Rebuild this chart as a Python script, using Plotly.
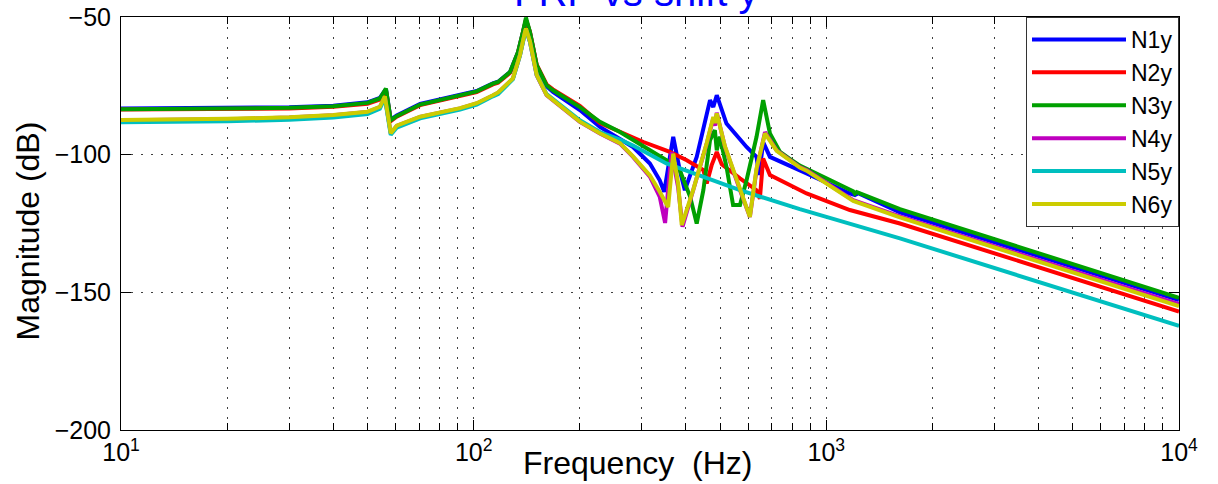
import plotly.graph_objects as go

# ---------------- data ----------------
series_names = ["N1y", "N2y", "N3y", "N4y", "N5y", "N6y"]
series_colors = ["#0000FF", "#FF0000", "#00A000", "#BF00BF", "#00BFBF", "#CCCC00"]

freq_N1 = [10, 20, 30, 40, 50, 54.2, 56.4, 58.2, 60.5, 70.5, 91.5, 102, 113.4, 117.3, 126.8,
           133.6, 137.9, 140.7, 144.4, 150.9, 161, 167.8, 200, 228, 283, 316, 337, 347, 368, 384,
           397, 429, 468, 478, 489, 521, 594, 634, 645, 662, 692, 841, 879, 1166, 1205, 1231, 1617, 10000]
mag_N1 = [-83.2, -83.0, -82.8, -82.2, -81.0, -79.4, -76.2, -87.3, -85.8, -81.6, -78.4, -76.9, -74.1, -73.5, -70.0,
          -62.8, -55.6, -51.0, -55.6, -67.7, -75.2, -77.2, -83.8, -89.9, -97.2, -103.2, -109.3, -113.5, -93.5, -105.6,
          -112.9, -100.8, -80.2, -82.7, -78.4, -88.7, -97.2, -100.8, -107.4, -95.4, -100.8, -105.6, -106.8, -114.1, -114.7, -114.0, -121.0, -152.8]

freq_N2 = [10, 20, 30, 40, 50, 54.2, 56.4, 58.2, 60.5, 70.5, 91.5, 102, 113.4, 117.3, 126.8,
           133.6, 137.9, 140.7, 144.4, 150.9, 161, 167.8, 200, 228, 303, 360, 402, 448, 458, 473,
           489, 505, 569, 634, 648, 662, 692, 841, 879, 1166, 1617, 10000]
mag_N2 = [-83.6, -83.4, -83.2, -82.6, -81.5, -80.0, -76.6, -87.8, -86.2, -82.0, -78.8, -77.3, -74.5, -73.9, -70.3,
          -63.0, -55.7, -51.0, -55.4, -67.3, -74.5, -76.3, -82.3, -88.5, -95.4, -99.0, -102.0, -105.6, -110.5, -103.8,
          -99.0, -103.5, -108.6, -112.9, -116.0, -101.4, -107.4, -112.9, -114.1, -120.1, -125.0, -157.0]

freq_N3 = [10, 20, 30, 40, 50, 54.2, 56.4, 58.2, 60.5, 70.5, 91.5, 102, 113.4, 117.3, 126.8,
           133.6, 137.9, 140.7, 144.4, 150.9, 161, 167.8, 200, 228, 260, 283, 352, 384, 411, 429,
           448, 468, 483, 489, 499, 521, 544, 569, 594, 634, 662, 692, 707, 739, 788,
           841, 980, 1192, 1205, 1219, 1617, 10000]
mag_N3 = [-83.5, -83.2, -83.0, -82.4, -81.2, -79.6, -76.0, -87.5, -86.0, -81.8, -78.6, -77.0, -74.2, -73.6, -70.0,
          -62.7, -55.4, -50.2, -55.4, -67.5, -74.8, -76.6, -82.7, -88.1, -91.8, -94.7, -102.0, -105.6, -115.3, -125.0,
          -112.9, -94.7, -91.1, -98.4, -93.5, -104.4, -118.3, -118.3, -109.3, -93.5, -80.2, -92.3, -94.7, -99.0, -101.5,
          -104.0, -108.0, -113.3, -114.2, -113.6, -119.8, -152.0]

freq_N4 = [10, 20, 30, 40, 50, 54.2, 56.0, 58.2, 60.5, 70.5, 91.5, 102, 113.4, 117.3, 129.2,
           135.3, 139.8, 140.7, 144.4, 150.9, 161, 167.8, 200, 228, 260, 283, 316, 337, 349, 364,
           380, 391, 420, 458, 478, 483, 489, 516, 569, 607, 634, 670, 723, 841, 879, 1192, 1617, 10000]
mag_N4 = [-87.5, -87.1, -86.5, -85.7, -84.5, -82.7, -79.0, -92.3, -89.6, -86.3, -83.2, -81.4, -78.5, -77.5, -72.4,
          -63.9, -55.6, -54.4, -59.0, -71.2, -78.4, -80.2, -88.1, -92.3, -96.0, -100.8, -108.0, -115.3, -124.8, -99.0,
          -111.9, -126.2, -112.9, -96.0, -86.8, -89.5, -84.8, -97.2, -112.9, -122.6, -105.6, -91.8, -98.4, -104.5, -105.6,
          -116.5, -122.4, -154.3]

freq_N5 = [10, 20, 30, 40, 50, 54.2, 56.0, 58.2, 60.5, 70.5, 91.5, 102, 113.4, 117.3, 129.2,
           135.3, 139.8, 140.7, 144.4, 150.9, 161, 167.8, 200, 228, 260, 283, 352, 569, 841, 1617, 10000]
mag_N5 = [-88.2, -87.9, -87.3, -86.5, -85.2, -83.3, -79.5, -92.8, -90.2, -86.8, -83.6, -81.8, -78.8, -78.0, -72.6,
          -64.0, -55.8, -54.6, -59.0, -71.0, -78.0, -79.8, -87.5, -91.8, -94.5, -96.7, -103.2, -112.9, -119.8, -130.4, -162.2]

freq_N6 = [10, 20, 30, 40, 50, 54.2, 56.0, 58.2, 60.5, 70.5, 91.5, 102, 113.4, 117.3, 129.2,
           135.3, 139.8, 140.7, 144.4, 150.9, 161, 167.8, 200, 228, 260, 283, 316, 337, 356, 368,
           380, 389, 420, 458, 478, 483, 489, 516, 569, 607, 634, 670, 723, 841, 879, 1192, 1617, 10000]
mag_N6 = [-87.4, -87.0, -86.4, -85.6, -84.4, -82.6, -78.8, -92.2, -89.5, -86.2, -83.1, -81.3, -78.4, -77.4, -72.3,
          -63.8, -55.4, -54.2, -58.8, -71.0, -78.3, -80.1, -88.0, -92.2, -95.8, -100.6, -107.5, -113.5, -119.0, -99.6,
          -110.5, -125.6, -112.5, -95.8, -86.3, -88.5, -85.0, -97.0, -112.5, -122.6, -105.0, -92.3, -98.6, -104.7, -105.8,
          -116.8, -122.8, -155.0]

x_major_ticks = [10, 100, 1000, 10000]
x_major_text = ["10<sup>1</sup>", "10<sup>2</sup>", "10<sup>3</sup>", "10<sup>4</sup>"]
x_minor_ticks = [20, 30, 40, 50, 60, 70, 80, 90,
                 200, 300, 400, 500, 600, 700, 800, 900,
                 2000, 3000, 4000, 5000, 6000, 7000, 8000, 9000]
y_ticks = [-200, -150, -100, -50]
y_tick_text = ["\u2212200", "\u2212150", "\u2212100", "\u221250"]

title_text = "FRF vs shift y"
x_label = "Frequency\u00a0\u00a0(Hz)"
y_label = "Magnitude (dB)"

# ---------------- figure ----------------
FONT = "Liberation Sans, Arial, Helvetica, sans-serif"
GRID = "#404040"
DASH = "2px,8px"

freqs = [freq_N1, freq_N2, freq_N3, freq_N4, freq_N5, freq_N6]
mags = [mag_N1, mag_N2, mag_N3, mag_N4, mag_N5, mag_N6]

fig = go.Figure()
for name, f, m, c in zip(series_names, freqs, mags, series_colors):
    fig.add_trace(go.Scatter(x=f, y=m, mode="lines", name=name,
                             line=dict(color=c, width=4)))

fig.update_layout(
    width=1218, height=484,
    margin=dict(l=121, r=39, t=17, b=54, autoexpand=False),
    paper_bgcolor="white", plot_bgcolor="white",
    font=dict(family=FONT, color="black", size=25),
    showlegend=True,
    legend=dict(x=1, y=1, xanchor="right", yanchor="top",
                bgcolor="white", bordercolor="#333333", borderwidth=1,
                font=dict(family=FONT, size=23, color="black"),
                itemwidth=94, tracegroupgap=0),
    xaxis=dict(type="log", range=[1, 4], automargin=False,
               tickmode="array", tickvals=x_major_ticks, ticktext=x_major_text,
               ticks="inside", ticklen=10, tickwidth=1, tickcolor="black",
               showline=True, linecolor="black", linewidth=1, mirror="ticks",
               showgrid=True, gridcolor=GRID, griddash=DASH, gridwidth=1,
               zeroline=False, tickfont=dict(size=25),
               minor=dict(tickmode="array", tickvals=x_minor_ticks,
                          ticks="inside", ticklen=7, tickwidth=1, tickcolor="black",
                          showgrid=True, gridcolor=GRID, griddash=DASH, gridwidth=1)),
    yaxis=dict(range=[-200, -50], automargin=False,
               tickmode="array", tickvals=y_ticks, ticktext=y_tick_text,
               ticks="inside", ticklen=10, tickwidth=1, tickcolor="black",
               showline=True, linecolor="black", linewidth=1, mirror="ticks",
               showgrid=True, gridcolor=GRID, griddash=DASH, gridwidth=1,
               zeroline=False, tickfont=dict(size=25), ticklabelstandoff=4),
    annotations=[
        dict(text=title_text, xref="paper", yref="paper", x=0.4868, y=1.003,
             xanchor="center", yanchor="bottom", showarrow=False,
             font=dict(family=FONT, size=40, color="#0000FF")),
        dict(text=x_label, xref="paper", yref="paper", x=0.488, y=-0.08,
             xanchor="center", yanchor="middle", showarrow=False,
             font=dict(family=FONT, size=32, color="black")),
        dict(text=y_label, xref="paper", yref="paper", x=-0.088, y=0.483,
             xanchor="center", yanchor="middle", showarrow=False, textangle=-90,
             font=dict(family=FONT, size=32, color="black")),
    ],
)

fig.write_html("out.html", config={"displayModeBar": False},
               post_script="document.body.style.margin='0';")
